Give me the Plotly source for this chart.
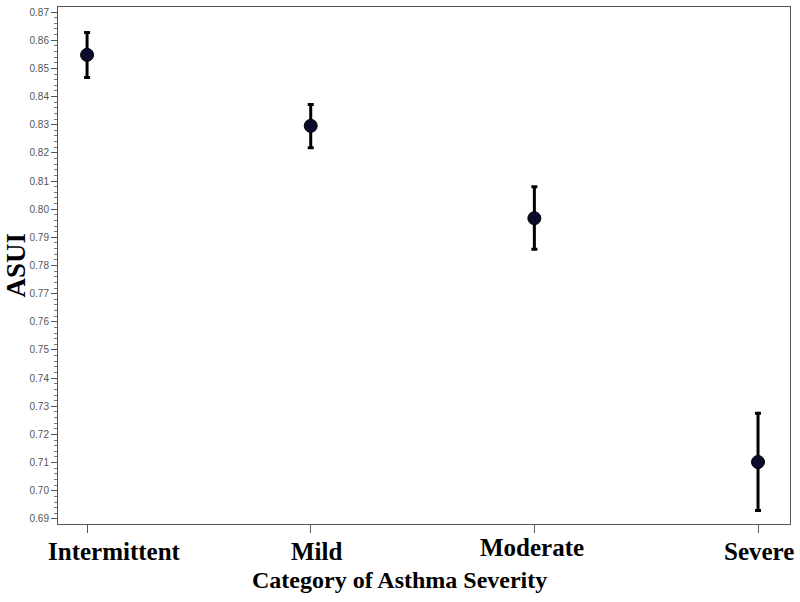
import plotly.graph_objects as go

categories = ["Intermittent", "Mild", "Moderate", "Severe"]
means = [0.8548, 0.8296, 0.7968, 0.7102]
upper = [0.8627, 0.8372, 0.8080, 0.7275]
lower = [0.8468, 0.8218, 0.7858, 0.6930]

y_ticks = [round(0.69 + 0.01 * i, 2) for i in range(19)]

# label offsets as placed in the original image (pixels)
label_xshift = [27, 6, -2, 1]
label_yshift = [-12, -12, -8, -12]

err_plus = [u - m for u, m in zip(upper, means)]
err_minus = [m - l for l, m in zip(lower, means)]
xpos = list(range(len(categories)))

fig = go.Figure()
fig.add_trace(go.Scatter(
    x=xpos, y=means, mode="markers",
    marker=dict(size=13, color="#0b0b2e", line=dict(color="#000000", width=1)),
    error_y=dict(type="data", symmetric=False, array=err_plus, arrayminus=err_minus,
                 color="#000000", thickness=3, width=3),
    showlegend=False, hoverinfo="skip",
))

annotations = []
for i, c in enumerate(categories):
    annotations.append(dict(
        x=xpos[i], xref="x", y=0, yref="paper", yanchor="top", xanchor="center",
        xshift=label_xshift[i], yshift=label_yshift[i], showarrow=False,
        text=f"<b>{c}</b>",
        font=dict(family="Liberation Serif", size=25, color="#000"),
    ))
annotations.append(dict(
    x=0.467, xref="paper", y=0, yref="paper", yanchor="top", xanchor="center",
    yshift=-41, showarrow=False,
    text="<b>Category of Asthma Severity</b>",
    font=dict(family="Liberation Serif", size=24, color="#000"),
))
annotations.append(dict(
    x=-0.0587, xref="paper", y=0.5, yref="paper", xanchor="center", yanchor="middle",
    textangle=-90, showarrow=False,
    text="<b>ASUI</b>",
    font=dict(family="Liberation Serif", size=27, color="#000"),
))

fig.update_layout(
    width=800, height=602,
    margin=dict(l=58, r=10, t=7, b=78),
    paper_bgcolor="white", plot_bgcolor="white",
    annotations=annotations,
    xaxis=dict(
        automargin=False,
        range=[-0.13, 3.143],
        tickmode="array", tickvals=xpos,
        ticktext=["" for _ in categories],
        ticks="outside", ticklen=8, tickcolor="#555",
        showgrid=False, zeroline=False,
        showline=True, linecolor="#555", linewidth=1, mirror=True,
    ),
    yaxis=dict(
        automargin=False,
        range=[0.6882, 0.8718],
        tickmode="array", tickvals=y_ticks,
        ticktext=[f"{v:.2f}" for v in y_ticks],
        ticks="outside", ticklen=6, tickcolor="#555",
        minor=dict(dtick=0.002, tick0=0.69, ticks="outside", ticklen=3, tickcolor="#777"),
        showgrid=False, zeroline=False,
        showline=True, linecolor="#555", linewidth=1, mirror=True,
        tickfont=dict(family="Liberation Sans", size=10, color="#555"),
    ),
)

fig.write_html("out.html", config={"displayModeBar": False},
               post_script="document.body.style.margin='0';")
